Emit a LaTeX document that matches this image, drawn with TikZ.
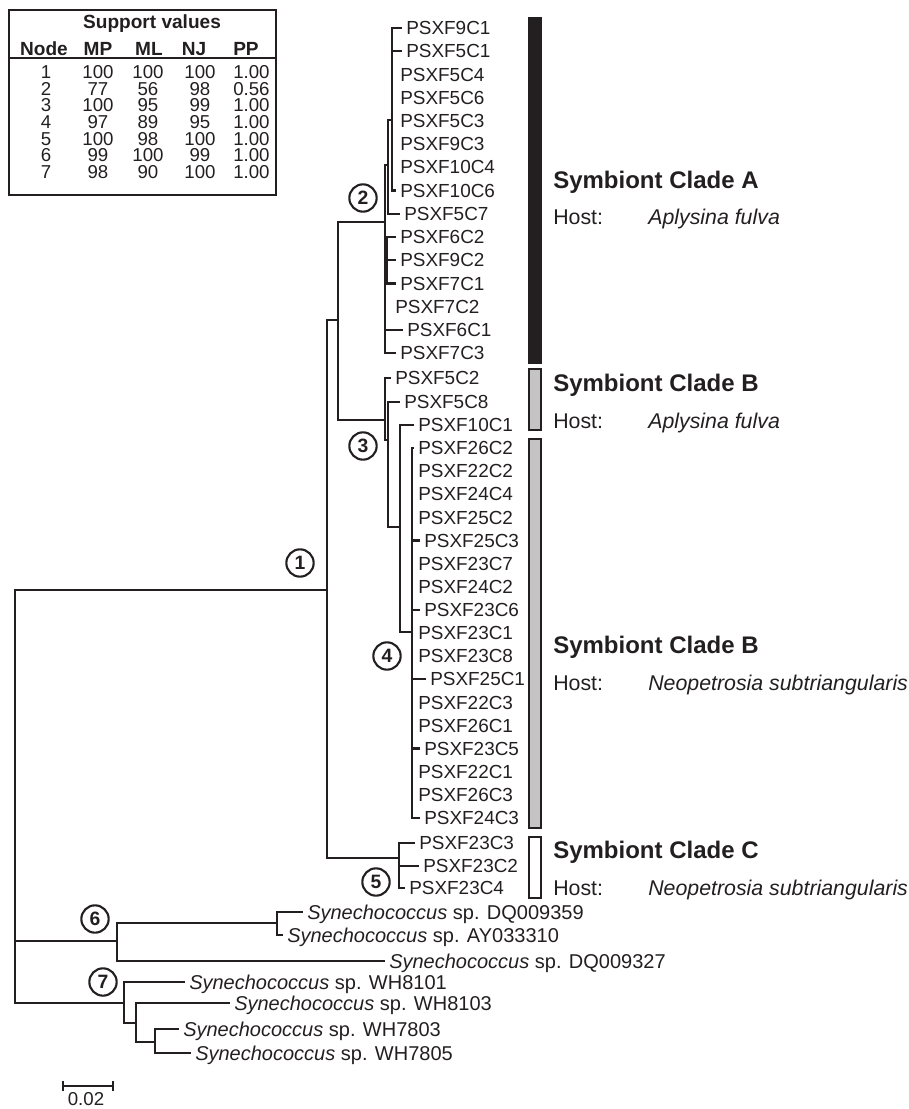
\documentclass[tikz,border=0pt]{standalone}
\usepackage{fontspec}
\setmainfont{Liberation Sans}
\definecolor{ink}{HTML}{231F20}
\definecolor{barg}{HTML}{C4C4C4}
\begin{document}
\begin{tikzpicture}[x=0.75pt,y=-0.75pt,
  tree/.style={line width=1.7pt, draw=ink},
  leaf/.style={anchor=west, inner xsep=3pt, inner ysep=0pt, text depth=0pt, text=ink, font=\fontsize{14.2}{16}\selectfont},
  synleaf/.style={leaf, font=\fontsize{15}{17}\selectfont},
  ncirc/.style={circle, draw=ink, line width=1.6pt, minimum size=20.5pt, inner sep=0pt, text=ink, font=\bfseries\fontsize{14.5}{15}\selectfont},
  cladelab/.style={anchor=west, inner sep=0pt, text depth=0pt, text=ink, font=\bfseries\fontsize{18}{20}\selectfont},
  hostlab/.style={anchor=west, inner sep=0pt, text depth=0pt, text=ink, font=\fontsize{16}{18}\selectfont},
  tcell/.style={inner sep=0pt, text depth=0pt, text=ink, font=\fontsize{14}{15}\selectfont},
  thead/.style={tcell, font=\bfseries\fontsize{14.3}{15}\selectfont},
  cbar/.style={line width=1.6pt, draw=ink}
]
\useasboundingbox (0,0) rectangle (908,1109);

% ---------- support table ----------
\draw[ink, line width=1pt] (9,10) rectangle (276,195);
\draw[ink, line width=1pt] (9,58) -- (276,58);
\node[thead] (ttitle) at (152,22) {Support values};
\node[thead] (hnode) at (44,49) {Node};
\node[thead] (hmp) at (98,49) {MP};
\node[thead] (hml) at (149,49) {ML};
\node[thead] (hnj) at (194,49) {NJ};
\node[thead, anchor=west] (hpp) at (233,49) {PP};
\foreach \n/\mp/\ml/\nj/\pp [count=\k from 0] in {1/100/100/100/1.00, 2/77/56/98/0.56, 3/100/95/99/1.00, 4/97/89/95/1.00, 5/100/98/100/1.00, 6/99/100/99/1.00, 7/98/90/100/1.00}{
  \pgfmathsetmacro\yy{72+16.67*\k}
  \node[tcell] (tn\k) at (46,\yy) {\n};
  \node[tcell] (tmp\k) at (98,\yy) {\mp};
  \node[tcell] (tml\k) at (148,\yy) {\ml};
  \node[tcell] (tnj\k) at (200,\yy) {\nj};
  \node[tcell, anchor=west] (tpp\k) at (233,\yy) {\pp};
}

% ---------- internal nodes ----------
\coordinate (R) at (15,800);
\coordinate (N1) at (327,590);
\coordinate (N23) at (338,320);
\coordinate (N2) at (385,222);
\coordinate (A1) at (388,165);
\coordinate (A1c) at (392,120);
\coordinate (A2) at (387,260);
\coordinate (N3) at (385,420);
\coordinate (B1) at (388,440);
\coordinate (B2) at (400,527);
\coordinate (N4) at (412,632);
\coordinate (N5) at (399,858);
\coordinate (N6) at (117,941);
\coordinate (N6a) at (277,923);
\coordinate (N7) at (124,1003);
\coordinate (N7a) at (136,1023);
\coordinate (N7b) at (155,1042);

% ---------- clade A leaves ----------
\node[leaf] (a9c1)  at (402,28.0)  {PSXF9C1};
\node[leaf] (a5c1)  at (402,51.2)  {PSXF5C1};
\node[leaf] (a5c4)  at (396,74.4)  {PSXF5C4};
\node[leaf] (a5c6)  at (396,97.6)  {PSXF5C6};
\node[leaf] (a5c3)  at (396,120.9) {PSXF5C3};
\node[leaf] (a9c3)  at (396,144.1) {PSXF9C3};
\node[leaf] (a10c4) at (396,167.3) {PSXF10C4};
\node[leaf] (a10c6) at (396,190.5) {PSXF10C6};
\node[leaf] (a5c7)  at (400,213.7) {PSXF5C7};
\node[leaf] (a6c2)  at (396,236.9) {PSXF6C2};
\node[leaf] (a9c2)  at (396,260.1) {PSXF9C2};
\node[leaf] (a7c1)  at (396,283.4) {PSXF7C1};
\node[leaf] (a7c2)  at (391,306.6) {PSXF7C2};
\node[leaf] (a6c1)  at (403,329.8) {PSXF6C1};
\node[leaf] (a7c3)  at (396,353.0) {PSXF7C3};

% ---------- clade B (A. fulva) leaves ----------
\node[leaf] (b5c2)  at (391,378) {PSXF5C2};
\node[leaf] (b5c8)  at (400,402) {PSXF5C8};
\node[leaf] (b10c1) at (414,425) {PSXF10C1};

% ---------- clade B (Neopetrosia) leaves ----------
\node[leaf] (n26c2) at (414,448.0) {PSXF26C2};
\node[leaf] (n22c2) at (414,471.1) {PSXF22C2};
\node[leaf] (n24c4) at (414,494.3) {PSXF24C4};
\node[leaf] (n25c2) at (414,517.4) {PSXF25C2};
\node[leaf] (n25c3) at (420,540.5) {PSXF25C3};
\node[leaf] (n23c7) at (414,563.6) {PSXF23C7};
\node[leaf] (n24c2) at (414,586.8) {PSXF24C2};
\node[leaf] (n23c6) at (420,609.9) {PSXF23C6};
\node[leaf] (n23c1) at (414,633.0) {PSXF23C1};
\node[leaf] (n23c8) at (414,656.1) {PSXF23C8};
\node[leaf] (n25c1) at (426,679.3) {PSXF25C1};
\node[leaf] (n22c3) at (414,702.4) {PSXF22C3};
\node[leaf] (n26c1) at (414,725.5) {PSXF26C1};
\node[leaf] (n23c5) at (420,748.6) {PSXF23C5};
\node[leaf] (n22c1) at (414,771.8) {PSXF22C1};
\node[leaf] (n26c3) at (414,794.9) {PSXF26C3};
\node[leaf] (n24c3) at (420,818.0) {PSXF24C3};

% ---------- clade C leaves ----------
\node[leaf] (c23c3) at (415,843) {PSXF23C3};
\node[leaf] (c23c2) at (419,866) {PSXF23C2};
\node[leaf] (c23c4) at (405,888) {PSXF23C4};

% ---------- outgroup leaves ----------
\node[synleaf] (sdq59) at (303,912) {\textit{Synechococcus} sp. DQ009359};
\node[synleaf] (say10) at (283,935) {\textit{Synechococcus} sp. AY033310};
\node[synleaf] (sdq27) at (385,961) {\textit{Synechococcus} sp. DQ009327};
\node[synleaf] (s8101) at (185,982) {\textit{Synechococcus} sp. WH8101};
\node[synleaf] (s8103) at (230,1003) {\textit{Synechococcus} sp. WH8103};
\node[synleaf] (s7803) at (179,1029) {\textit{Synechococcus} sp. WH7803};
\node[synleaf] (s7805) at (191,1053) {\textit{Synechococcus} sp. WH7805};

% ---------- branches ----------
\draw[tree] (R) |- (N1);
\draw[tree] (R) |- (N6);
\draw[tree] (R) |- (N7);
\draw[tree] (N1) |- (N23);
\draw[tree] (N1) |- (N5);
\draw[tree] (N23) |- (N2);
\draw[tree] (N23) |- (N3);
% clade A
\draw[tree] (N2) |- (A1);
\draw[tree] (A1) |- (A1c);
\draw[tree] (A1c) |- (a9c1.west);
\draw[tree] (A1c) |- (a5c1.west);
\draw[tree] (A1c) |- (a10c6.west);
\draw[tree] (A1) |- (a5c7.west);
\draw[tree] (N2) |- (A2);
\draw[tree] (A2) |- (a6c2.west);
\draw[tree] (A2) |- (a9c2.west);
\draw[tree] (A2) |- (a7c1.west);
\draw[tree] (N2) |- (a6c1.west);
\draw[tree] (N2) |- (a7c3.west);
% clade B
\draw[tree] (N3) |- (b5c2.west);
\draw[tree] (N3) |- (B1);
\draw[tree] (B1) |- (b5c8.west);
\draw[tree] (B1) |- (B2);
\draw[tree] (B2) |- (b10c1.west);
\draw[tree] (B2) |- (N4);
\draw[tree] (N4) |- (n26c2.west);
\draw[tree] (N4) |- (n25c3.west);
\draw[tree] (N4) |- (n23c6.west);
\draw[tree] (N4) |- (n25c1.west);
\draw[tree] (N4) |- (n23c5.west);
\draw[tree] (N4) |- (n24c3.west);
% clade C
\draw[tree] (N5) |- (c23c3.west);
\draw[tree] (N5) |- (c23c2.west);
\draw[tree] (N5) |- (c23c4.west);
% outgroup
\draw[tree] (N6) |- (N6a);
\draw[tree] (N6a) |- (sdq59.west);
\draw[tree] (N6a) |- (say10.west);
\draw[tree] (N6) |- (sdq27.west);
\draw[tree] (N7) |- (s8101.west);
\draw[tree] (N7) |- (N7a);
\draw[tree] (N7a) |- (s8103.west);
\draw[tree] (N7a) |- (N7b);
\draw[tree] (N7b) |- (s7803.west);
\draw[tree] (N7b) |- (s7805.west);

% ---------- node numbers ----------
\node[ncirc] (c1) at (300,563) {1};
\node[ncirc] (c2) at (363,198) {2};
\node[ncirc] (c3) at (363,446) {3};
\node[ncirc] (c4) at (387,656) {4};
\node[ncirc] (c5) at (376,882) {5};
\node[ncirc] (c6) at (95,919) {6};
\node[ncirc] (c7) at (103,982) {7};

% ---------- clade bars ----------
\draw[cbar, fill=ink] (529,18) rectangle (541,363);
\draw[cbar, fill=barg] (529,369) rectangle (541,430);
\draw[cbar, fill=barg] (529,439) rectangle (541,828);
\draw[cbar, fill=white] (529,837) rectangle (541,898);

% ---------- clade labels ----------
\node[cladelab] (lA) at (553,180) {Symbiont Clade A};
\node[hostlab] (hA) at (553,217) {Host:};
\node[hostlab] (sA) at (648,217) {\textit{Aplysina fulva}};
\node[cladelab] (lB1) at (553,383) {Symbiont Clade B};
\node[hostlab] (hB1) at (553,421) {Host:};
\node[hostlab] (sB1) at (648,421) {\textit{Aplysina fulva}};
\node[cladelab] (lB2) at (553,645) {Symbiont Clade B};
\node[hostlab] (hB2) at (553,683) {Host:};
\node[hostlab] (sB2) at (648,683) {\textit{Neopetrosia subtriangularis}};
\node[cladelab] (lC) at (553,850) {Symbiont Clade C};
\node[hostlab] (hC) at (553,888) {Host:};
\node[hostlab] (sC) at (648,888) {\textit{Neopetrosia subtriangularis}};

% ---------- scale bar ----------
\coordinate (sbL) at (63,1086);
\coordinate (sbR) at (113,1086);
\draw[tree] (sbL) -- (sbR);
\draw[tree] ([yshift=3.5pt]sbL) -- ([yshift=-3.5pt]sbL);
\draw[tree] ([yshift=3.5pt]sbR) -- ([yshift=-3.5pt]sbR);
\node[tcell] (sblab) at (86,1099) {0.02};
\end{tikzpicture}
\end{document}
